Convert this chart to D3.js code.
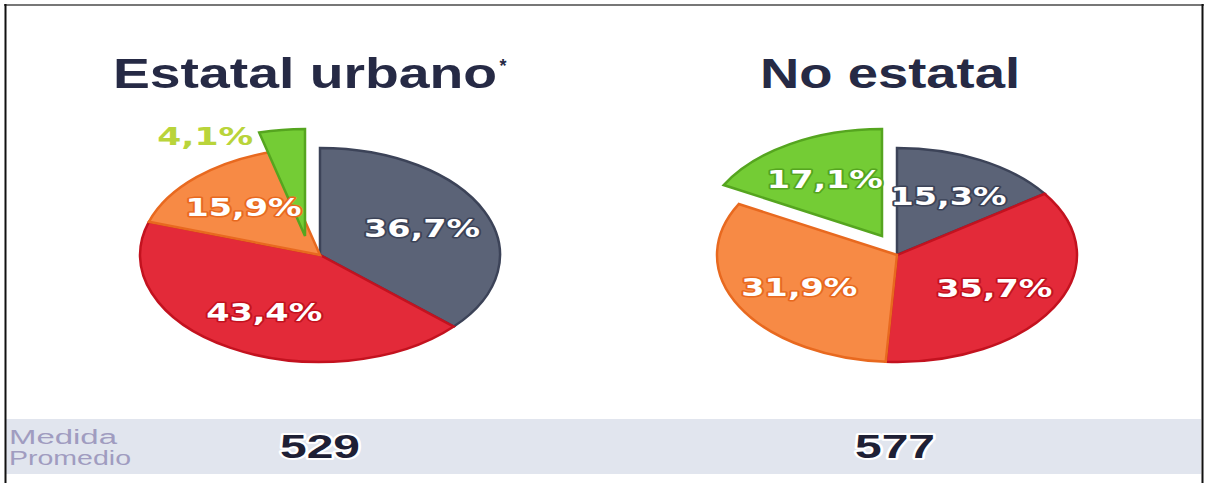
<!DOCTYPE html>
<meta charset="utf-8">
<style>
body { margin: 0; background: #fff; }
svg { display: block; }
.title { font-family: "Liberation Sans", Arial, sans-serif; font-weight: bold; fill: #262a45; }
.pct { font-family: "DejaVu Sans", sans-serif; font-weight: bold; paint-order: stroke; stroke-linejoin: round; }
.band-label { font-family: "Liberation Sans", Arial, sans-serif; fill: #a09cc0; }
.mean { font-family: "Liberation Sans", Arial, sans-serif; font-weight: bold; fill: #1e2035; paint-order: stroke; stroke: #fff; stroke-width: 4px; stroke-linejoin: round; }
</style>
<svg width="1218" height="483"></svg>

<script src="https://cdn.jsdelivr.net/npm/d3@7/dist/d3.min.js"></script>
<script>

// data
var groups = ["Estatal urbano", "No estatal"];
var estatalUrbano = [36.7, 43.4, 15.9, 4.1];
var noEstatal = [15.3, 35.7, 31.9, 17.1];
var medias = [529, 577];
var bandLabel = ["Medida", "Promedio"];

// styles
var fills   = ["#5b6377", "#e32a39", "#f78a45", "#74cc35"];
var strokes = ["#3c4358", "#c3121f", "#e8691f", "#55a51f"];
var explode = [false, false, false, true];

var svg = d3.select("svg"),
    width = +svg.attr("width"),
    height = +svg.attr("height");

var R = 100, rx = 180, ry = 107;
var centers = [[320, 255], [897, 255]];
var titleWidths = [384, 260];
var titleX = [305, 890];
var explodeShift = [-15, -19];

var pie = d3.pie().sort(null).value(function(d) { return d; });
var arc = d3.arc().innerRadius(0).outerRadius(R);

// bottom band
svg.append("rect")
    .attr("x", 5).attr("y", 419)
    .attr("width", 1196).attr("height", 55)
    .attr("fill", "#e1e5ee");

svg.append("text").attr("class", "band-label")
    .attr("x", 9).attr("y", 444).attr("font-size", 20)
    .attr("textLength", 108).attr("lengthAdjust", "spacingAndGlyphs")
    .text(bandLabel[0]);
svg.append("text").attr("class", "band-label")
    .attr("x", 9).attr("y", 465).attr("font-size", 20)
    .attr("textLength", 122).attr("lengthAdjust", "spacingAndGlyphs")
    .text(bandLabel[1]);

[estatalUrbano, noEstatal].forEach(function(values, gi) {
  var c = centers[gi];
  var arcs = pie(values);

  // title
  svg.append("text").attr("class", "title")
      .attr("x", titleX[gi]).attr("y", 88)
      .attr("text-anchor", "middle")
      .attr("font-size", 42)
      .attr("textLength", titleWidths[gi]).attr("lengthAdjust", "spacingAndGlyphs")
      .text(groups[gi]);

  var g = svg.append("g");

  g.selectAll("g.slice")
    .data(arcs)
    .enter().append("g")
      .attr("class", "slice")
      .attr("transform", function(d, i) {
        var s = explode[i] ? explodeShift : [0, 0];
        return "translate(" + (c[0] + s[0]) + "," + (c[1] + s[1]) + ") scale(" + (rx / R) + "," + (ry / R) + ")";
      })
    .append("path")
      .attr("d", arc)
      .attr("fill", function(d, i) { return fills[i]; })
      .attr("stroke", function(d, i) { return strokes[i]; })
      .attr("stroke-width", 2.5)
      .attr("vector-effect", "non-scaling-stroke");

  // labels
  arcs.forEach(function(d, i) {
    var s = explode[i] ? explodeShift : [0, 0];
    var mid = (d.startAngle + d.endAngle) / 2;
    var txt = d3.format(".1f")(d.data).replace(".", ",") + "%";
    var t = svg.append("text").attr("class", "pct")
        .attr("font-size", 24)
        .attr("textLength", 116).attr("lengthAdjust", "spacingAndGlyphs")
        .text(txt);
    if (d.data < 5) {
      // small slice: label left of the slice, outside the pie
      var a = d.startAngle;
      var px = c[0] + s[0] + rx * Math.sin(a) - 6;
      var py = c[1] + s[1] - ry * Math.cos(a) + 12;
      t.attr("x", px).attr("y", py).attr("text-anchor", "end")
        .attr("textLength", 96)
        .attr("fill", "#b9d43a").attr("stroke", "#fff").attr("stroke-width", 3);
    } else {
      var f = 0.62;
      var px = c[0] + s[0] + rx * f * Math.sin(mid);
      var py = c[1] + s[1] - ry * f * Math.cos(mid) + 9;
      t.attr("x", px).attr("y", py).attr("text-anchor", "middle")
        .attr("fill", "#fff").attr("stroke", strokes[i]).attr("stroke-width", 3);
    }
  });

  // mean value
  svg.append("text").attr("class", "mean")
      .attr("x", gi === 0 ? 320 : 895).attr("y", 458)
      .attr("text-anchor", "middle")
      .attr("font-size", 34)
      .attr("textLength", 80).attr("lengthAdjust", "spacingAndGlyphs")
      .text(medias[gi]);
});

// asterisk after first title
svg.append("text").attr("class", "title")
    .attr("x", 503).attr("y", 72)
    .attr("text-anchor", "middle")
    .attr("font-size", 18)
    .text("*");

// frame
svg.append("line").attr("x1", 4).attr("x2", 1204).attr("y1", 5).attr("y2", 5)
    .attr("stroke", "#777").attr("stroke-width", 2);
svg.append("line").attr("x1", 5.5).attr("x2", 5.5).attr("y1", 4).attr("y2", height)
    .attr("stroke", "#111").attr("stroke-width", 2);
svg.append("line").attr("x1", 1202.5).attr("x2", 1202.5).attr("y1", 4).attr("y2", height)
    .attr("stroke", "#111").attr("stroke-width", 2);

</script>
